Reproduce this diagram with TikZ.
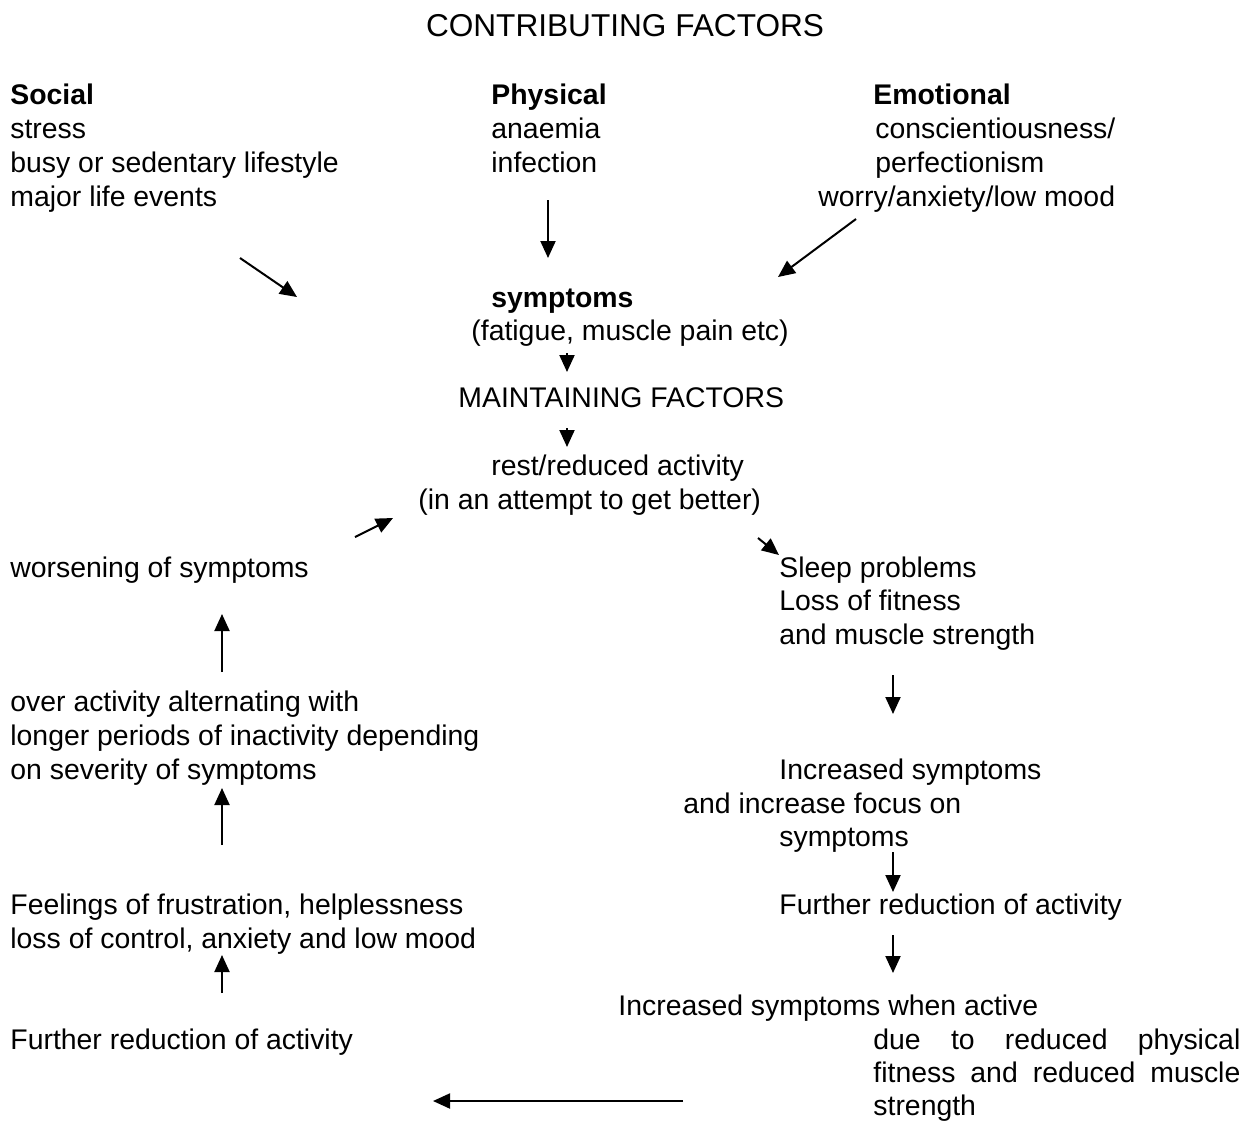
\documentclass[tikz,border=0pt]{standalone}
\usepackage{fontspec}
\setmainfont{Liberation Sans}
\usetikzlibrary{arrows.meta}

\begin{document}
\begin{tikzpicture}[x=0.5pt,y=-0.5pt
	,txt/.style={
		anchor=base west
		,inner sep=0
		,font=\fontsize{14.2}{17}\selectfont
	}
	,flow/.style={
		line width=1pt
		,-{Triangle[length=8.5pt,width=7.5pt]}
	}
]

\useasboundingbox (0,0) rectangle (1252,1121);

\node[txt,anchor=base,font=\fontsize{15.8}{19}\selectfont](title) at(625,36) {CONTRIBUTING FACTORS};

% contributing factors
\node[txt,font=\fontsize{14.2}{17}\selectfont\bfseries](soc) at(10,104) {Social};
\node[txt](soc1) at(10,138) {stress};
\node[txt](soc2) at(10,172) {busy or sedentary lifestyle};
\node[txt](soc3) at(10,206) {major life events};

\node[txt,font=\fontsize{14.2}{17}\selectfont\bfseries](phy) at(491,104) {Physical};
\node[txt](phy1) at(491,138) {anaemia};
\node[txt](phy2) at(491,172) {infection};

\node[txt,font=\fontsize{14.2}{17}\selectfont\bfseries](emo) at(873,104) {Emotional};
\node[txt](emo1) at(875,138) {conscientiousness/};
\node[txt](emo2) at(875,172) {perfectionism};
\node[txt](emo3) at(818,206) {worry/anxiety/low mood};

% middle
\node[txt,font=\fontsize{14.2}{17}\selectfont\bfseries](sym) at(491,307) {symptoms};
\node[txt](sym1) at(471,340) {(fatigue, muscle pain etc)};
\node[txt](main) at(458,407) {MAINTAINING FACTORS};
\node[txt](rest) at(491,475) {rest/reduced activity};
\node[txt](rest1) at(418,509) {(in an attempt to get better)};

% left column
\node[txt](l1) at(10,577) {worsening of symptoms};
\node[txt](l2) at(10,711) {over activity alternating with};
\node[txt](l3) at(10,745) {longer periods of inactivity depending};
\node[txt](l4) at(10,779) {on severity of symptoms};
\node[txt](l5) at(10,914) {Feelings of frustration, helplessness};
\node[txt](l6) at(10,948) {loss of control, anxiety and low mood};
\node[txt](l7) at(10,1049) {Further reduction of activity};

% right column
\node[txt](r1) at(779,577) {Sleep problems};
\node[txt](r2) at(779,610) {Loss of fitness};
\node[txt](r3) at(779,644) {and muscle strength};
\node[txt](r4) at(779,779) {Increased symptoms};
\node[txt](r5) at(683,813) {and increase focus on};
\node[txt](r6) at(779,846) {symptoms};
\node[txt](r7) at(779,914) {Further reduction of activity};
\node[txt](r8) at(618,1015) {Increased symptoms when active};
\node[txt,text width=183.5pt,align=justify
	,font=\fontsize{14.2}{16.5}\selectfont](r9) at(873,1049)
	{due to reduced physical\linebreak fitness and reduced muscle\linebreak strength};

% arrow ends
\foreach \n/\x/\y in {
	a1s/240/258,a1e/297/297%
	,a2s/548/200,a2e/548/258%
	,a3s/856/219,a3e/778/277%
	,a4s/567/353,a4e/567/372%
	,a5s/567/428,a5e/567/447%
	,a6s/355/537,a6e/393/518%
	,a7s/758/538,a7e/779/555%
	,a8s/222/672,a8e/222/614%
	,a9s/893/675,a9e/893/714%
	,a10s/222/845,a10e/222/788%
	,a11s/893/852,a11e/893/892%
	,a12s/893/935,a12e/893/973%
	,a13s/222/993,a13e/222/955%
	,a14s/683/1101,a14e/433/1101%
}{
	\coordinate(\n) at(\x,\y);
}

\foreach \i in {1,...,14}{
	\draw[flow] (a\i s) -- (a\i e);
}

\end{tikzpicture}
\end{document}
